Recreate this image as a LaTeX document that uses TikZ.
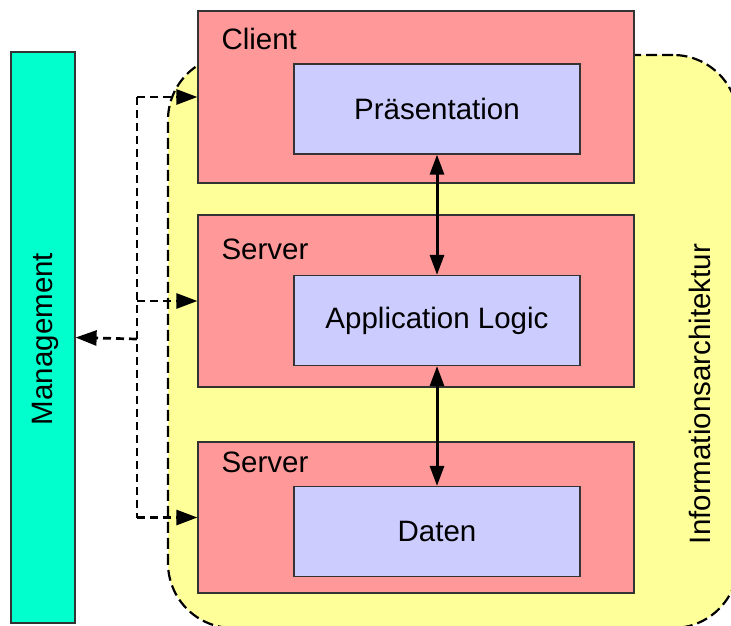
\documentclass[tikz,border=0pt]{standalone}
\usepackage{fontspec}
\setmainfont{Liberation Sans}
\usetikzlibrary{arrows.meta}

\definecolor{mgmtgreen}{RGB}{0,255,204}
\definecolor{tierred}{RGB}{255,153,153}
\definecolor{layerblue}{RGB}{204,204,255}
\definecolor{archyellow}{RGB}{255,255,153}

\begin{document}
\begin{tikzpicture}[x=1pt, y=-1pt, draw=black!80,
	font=\fontsize{29.5pt}{34pt}\selectfont,
	tier/.style={rectangle, draw, line width=1.2pt, fill=tierred, inner sep=0pt, minimum width=436pt},
	layer/.style={rectangle, draw, line width=1.2pt, fill=layerblue, inner sep=0pt, minimum width=286pt, minimum height=90pt},
	link/.style={line width=3pt, black, {Triangle[length=20pt,width=14pt]}-{Triangle[length=20pt,width=14pt]}},
	ctrl/.style={line width=2.7pt, black, dash pattern=on 8pt off 5pt, -{Triangle[length=21pt,width=15pt]}}]
	\clip (0,0) rectangle (731,625);
	\node (arch) at (453, 341.5)	[draw=black, fill=archyellow, line width=2.2pt, dash pattern=on 11pt off 5pt, rounded corners=65pt, minimum width=570pt, minimum height=573pt]	{};
	\node (mgmt) at (43, 337.5)	[draw, line width=1.2pt, fill=mgmtgreen, minimum width=64pt, minimum height=571pt]	{};
	\node (client) at (416, 97)	[tier, minimum height=172pt]	{};
	\node (server1) at (416, 301)	[tier, minimum height=172pt]	{};
	\node (server2) at (416, 517.5)	[tier, minimum height=151pt]	{};
	\node (praes) at (437, 109)	[layer]	{Präsentation};
	\node (logic) at (437, 320.5)	[layer]	{Application Logic};
	\node (daten) at (437, 531.5)	[layer]	{Daten};
	\node (clientlbl) at (218, 49)	[anchor=base west]	{Client};
	\node (server1lbl) at (218, 259)	[anchor=base west]	{Server};
	\node (server2lbl) at (218, 472)	[anchor=base west]	{Server};
	\node (mgmtlbl) at (52, 339)	[rotate=90, anchor=base]	{Management};
	\node (archlbl) at (710, 394)	[rotate=90, anchor=base]	{Informationsarchitektur};
	\draw[link] (praes) -- (logic);
	\draw[link] (logic) -- (daten);
	\coordinate (bus) at (137, 339);
	\draw[ctrl, -] (bus |- client.west) -- (bus |- server2.west);
	\draw[ctrl] (bus |- client.west) -- (client.west);
	\draw[ctrl] (bus |- server1.west) -- (server1.west);
	\draw[ctrl] (bus |- server2.west) -- (server2.west);
	\draw[ctrl] (bus) -- (mgmt.east);
\end{tikzpicture}
\end{document}
